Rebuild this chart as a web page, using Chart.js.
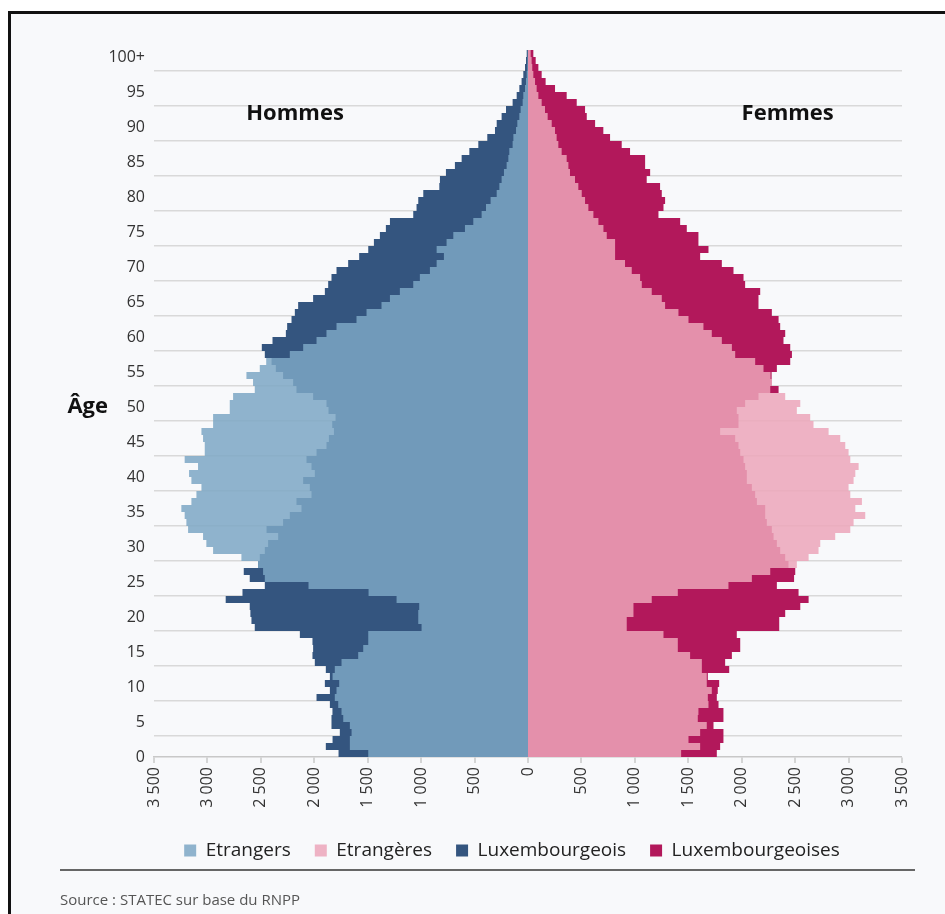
<!DOCTYPE html>
<html lang="fr">
<head>
<meta charset="utf-8">
<title>Pyramide des âges</title>
<script src="https://cdn.jsdelivr.net/npm/chart.js@4.4.1/dist/chart.umd.min.js"></script>
<style>
    html, body { margin: 0; padding: 0; background: #fff; }
    body { width: 945px; height: 914px; overflow: hidden; position: relative; }
    .frame { position: absolute; left: 8px; top: 11px; width: 960px; height: 930px; border: 3px solid #111; background: #f8f9fb; }
    #wrap { position: absolute; left: 0; top: 0; width: 945px; height: 914px; }
</style>
</head>
<body>
<div class="frame"></div>
<div id="wrap"><canvas id="pyramid"></canvas></div>
<script>
// Age categories 0 .. 100+
const ageLabels = [];
for (let a = 0; a <= 100; a++) ageLabels.push(a === 100 ? '100+' : String(a));

// Values per age (index 0 = 0 ans, index 100 = 100+)
const hommesEtrangers = [
    1495, 1667, 1667, 1651, 1667, 1729, 1745, 1776, 1808, 1792,
    1767, 1829, 1808, 1745, 1589, 1542, 1495, 1495, 996, 1027,
    1027, 1018, 1230, 1492, 2054, 2463, 2479, 2526, 2682, 2947,
    3010, 3041, 3181, 3197, 3213, 3244, 3150, 3103, 3056, 3150,
    3172, 3088, 3213, 3025, 3025, 3041, 3056, 2947, 2947, 2791,
    2791, 2760, 2557, 2573, 2635, 2510, 2450, 2229, 2104, 1979,
    1886, 1792, 1605, 1511, 1371, 1292, 1199, 1074, 1012, 918,
    855, 787, 855, 762, 699, 590, 512, 434, 393, 350,
    293, 268, 247, 225, 200, 184, 175, 144, 137, 112,
    100, 81, 69, 50, 44, 28, 19, 12, 6, 5,
    3
];
const hommesLux = [
    1773, 1892, 1829, 1761, 1839, 1839, 1830, 1854, 1979, 1854,
    1901, 1854, 1892, 1995, 2017, 2011, 2017, 2135, 2557, 2588,
    2598, 2604, 2829, 2672, 2463, 2604, 2660, 2526, 2510, 2463,
    2432, 2338, 2447, 2292, 2229, 2120, 2167, 2026, 2042, 2104,
    1995, 2026, 2073, 1979, 1886, 1863, 1816, 1832, 1801, 1867,
    1886, 2011, 2167, 2198, 2292, 2360, 2400, 2463, 2491, 2391,
    2266, 2254, 2213, 2182, 2151, 2011, 1901, 1870, 1839, 1792,
    1683, 1580, 1495, 1442, 1386, 1330, 1292, 1074, 1043, 1027,
    980, 830, 824, 768, 684, 621, 549, 465, 381, 309,
    293, 247, 206, 144, 106, 81, 60, 44, 28, 19,
    12
];
const femmesEtrangeres = [
    1433, 1611, 1502, 1611, 1673, 1589, 1595, 1689, 1683, 1720,
    1673, 1673, 1627, 1627, 1517, 1402, 1402, 1268, 924, 924,
    987, 987, 1158, 1402, 1876, 2095, 2267, 2516, 2626, 2719,
    2735, 2875, 3016, 3047, 3156, 3063, 3125, 3016, 3000, 3047,
    3063, 3094, 3016, 3000, 2969, 2922, 2813, 2672, 2641, 2516,
    2548, 2407, 2267, 2282, 2270, 2204, 2126, 1939, 1908, 1814,
    1720, 1642, 1502, 1408, 1283, 1252, 1158, 1065, 1049, 971,
    908, 815, 815, 815, 737, 706, 659, 612, 565, 534,
    503, 471, 440, 393, 378, 362, 315, 284, 268, 253,
    222, 184, 159, 128, 97, 81, 66, 50, 40, 34,
    25
];
const femmesLux = [
    1767, 1798, 1829, 1829, 1736, 1829, 1829, 1783, 1767, 1776,
    1789, 1683, 1883, 1845, 1908, 1986, 1986, 1954, 2351, 2351,
    2407, 2548, 2626, 2532, 2329, 2490, 2501, 2438, 2407, 2360,
    2329, 2298, 2282, 2235, 2220, 2220, 2142, 2126, 2095, 2048,
    2048, 2032, 2017, 1986, 1970, 1939, 1798, 1970, 1970, 1954,
    2032, 2157, 2345, 2280, 2280, 2329, 2454, 2470, 2454, 2391,
    2407, 2360, 2345, 2282, 2157, 2157, 2173, 2032, 2017, 1923,
    1814, 1611, 1689, 1595, 1595, 1486, 1424, 1221, 1268, 1283,
    1252, 1236, 1111, 1143, 1096, 1096, 955, 877, 768, 705,
    628, 550, 534, 456, 362, 253, 165, 128, 97, 72,
    50
];

const seriesNames = ['Etrangers', 'Etrangères', 'Luxembourgeois', 'Luxembourgeoises'];
const xTickValues = [-3500, -3000, -2500, -2000, -1500, -1000, -500, 0, 500, 1000, 1500, 2000, 2500, 3000, 3500];

const FONT = '"Open Sans", "Noto Sans", sans-serif';

function formatThousands(v) {
    return String(Math.abs(v)).replace(/\B(?=(\d{3})+(?!\d))/g, ' ');
}

// Titles, "Âge", separator and source
const extraText = {
    id: 'extraText',
    afterDraw(chart) {
        const ctx = chart.ctx;
        const xs = chart.scales.x;
        const ys = chart.scales.y;
        ctx.save();
        ctx.fillStyle = '#111';
        ctx.font = 'bold 22px ' + FONT;
        ctx.textBaseline = 'middle';
        ctx.textAlign = 'center';
        ctx.fillText('Hommes', xs.getPixelForValue(-2180), ys.getPixelForValue(91.4));
        ctx.fillText('Femmes', xs.getPixelForValue(2430), ys.getPixelForValue(91.4));
        ctx.textAlign = 'right';
        ctx.fillText('Âge', 108, ys.getPixelForValue(49.5));

        ctx.strokeStyle = '#666';
        ctx.lineWidth = 2;
        ctx.beginPath();
        ctx.moveTo(60, 870);
        ctx.lineTo(915, 870);
        ctx.stroke();

        ctx.fillStyle = '#555';
        ctx.font = '15px ' + FONT;
        ctx.textAlign = 'left';
        ctx.fillText('Source : STATEC sur base du RNPP', 60, 901);
        ctx.restore();
    }
};

// centre the legend under the plot rather than under the whole canvas
const legendShift = {
    id: 'legendShift',
    afterLayout(chart) {
        chart.legend.left += 31;
        chart.legend.right += 31;
    }
};

const ctx = document.getElementById('pyramid').getContext('2d');
new Chart(ctx, {
    type: 'bar',
    data: {
        labels: ageLabels,
        datasets: [{
            label: seriesNames[0],
            data: hommesEtrangers.map(v => -v),
            backgroundColor: 'rgba(125, 167, 196, 0.85)'
        }, {
            label: seriesNames[1],
            data: femmesEtrangeres,
            backgroundColor: 'rgba(236, 166, 186, 0.85)'
        }, {
            label: seriesNames[2],
            data: hommesLux.map(v => -v),
            backgroundColor: '#34557f'
        }, {
            label: seriesNames[3],
            data: femmesLux,
            backgroundColor: '#b2185b'
        }]
    },
    options: {
        indexAxis: 'y',
        responsive: true,
        maintainAspectRatio: false,
        animation: false,
        datasets: {
            bar: {
                grouped: false,
                barPercentage: 1,
                categoryPercentage: 1,
                borderWidth: 0,
                inflateAmount: 0
            }
        },
        layout: {
            padding: { top: 50, right: 43, left: 60, bottom: 44 }
        },
        scales: {
            x: {
                type: 'linear',
                min: -3500,
                max: 3500,
                afterBuildTicks: function(scale) {
                    scale.ticks = xTickValues.map(v => ({ value: v }));
                },
                afterFit: function(scale) {
                    scale.height = 60;
                },
                ticks: {
                    minRotation: 90,
                    maxRotation: 90,
                    padding: 4,
                    color: '#333',
                    font: { family: FONT, size: 16 },
                    callback: function(value) {
                        return formatThousands(value);
                    }
                },
                grid: {
                    drawOnChartArea: false,
                    drawTicks: true,
                    tickLength: 6,
                    lineWidth: 0,
                    tickWidth: 1.5,
                    tickColor: '#c8c8c8'
                },
                border: { display: true, color: '#c8c8c8', width: 1.5 }
            },
            y: {
                type: 'category',
                reverse: true,
                afterFit: function(scale) {
                    scale.width = 94;
                },
                ticks: {
                    autoSkip: false,
                    padding: 9,
                    labelOffset: 3.5,
                    color: '#333',
                    font: { family: FONT, size: 16 },
                    callback: function(value, index) {
                        return index % 5 === 0 ? ageLabels[index] : null;
                    }
                },
                grid: {
                    drawTicks: false,
                    color: '#d9d9d9',
                    lineWidth: 1.5
                },
                border: { display: false }
            }
        },
        plugins: {
            legend: {
                position: 'bottom',
                labels: {
                    boxWidth: 12,
                    boxHeight: 12,
                    padding: 24,
                    color: '#222',
                    font: { family: FONT, size: 19 }
                }
            },
            tooltip: {
                callbacks: {
                    label: function(item) {
                        return item.dataset.label + ' : ' + formatThousands(item.raw);
                    }
                }
            }
        }
    },
    plugins: [extraText, legendShift]
});
</script>
</body>
</html>
